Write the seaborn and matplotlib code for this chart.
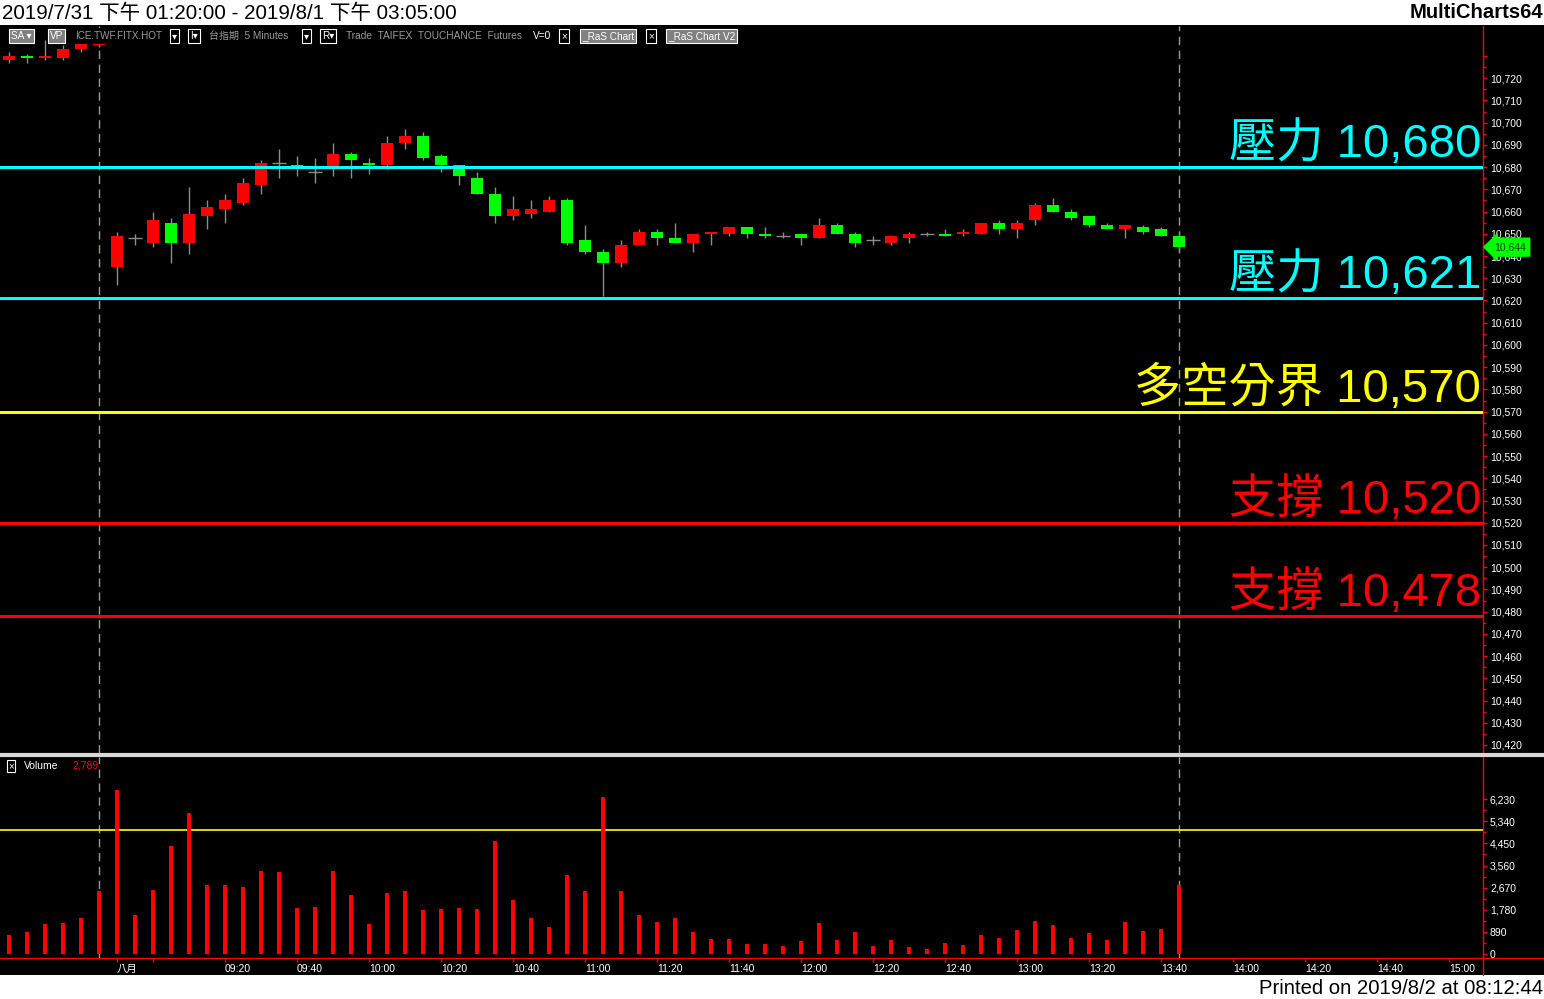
import matplotlib
matplotlib.use("Agg")
import numpy as np
import pandas as pd
import matplotlib.pyplot as plt
import seaborn as sns
from matplotlib.lines import Line2D
from matplotlib.patches import Rectangle
from matplotlib.transforms import blended_transform_factory
from matplotlib.ticker import FixedLocator, FuncFormatter


# 5 minute bars of TAIFEX futures, last 6 bars of the night session then the day session
bar_open = [10728, 10730, 10729, 10729, 10733, 10735,
            10635, 10648, 10646, 10655, 10646, 10658, 10661, 10664, 10672, 10682,
            10681, 10678, 10679, 10686, 10682, 10681, 10691, 10694, 10685, 10681,
            10675, 10668, 10658, 10659, 10660, 10665, 10647, 10642, 10637, 10645,
            10651, 10648, 10646, 10650, 10650, 10653, 10650, 10649, 10650, 10648,
            10654, 10650, 10647, 10646, 10648, 10650, 10650, 10650, 10650, 10655,
            10652, 10656, 10663, 10660, 10658, 10654, 10652, 10653, 10652, 10649]
bar_high = [10732, 10731, 10737, 10735, 10738, 10742,
            10651, 10650, 10660, 10657, 10671, 10665, 10668, 10675, 10683, 10688,
            10685, 10684, 10691, 10687, 10684, 10694, 10697, 10696, 10686, 10681,
            10678, 10671, 10667, 10665, 10667, 10666, 10654, 10643, 10647, 10652,
            10652, 10655, 10650, 10651, 10653, 10653, 10653, 10651, 10650, 10657,
            10655, 10651, 10649, 10649, 10651, 10651, 10652, 10652, 10655, 10656,
            10656, 10664, 10666, 10661, 10658, 10655, 10654, 10654, 10653, 10651]
bar_low = [10727, 10727, 10728, 10728, 10732, 10734,
           10627, 10645, 10644, 10637, 10641, 10652, 10655, 10663, 10668, 10675,
           10676, 10673, 10676, 10675, 10677, 10679, 10688, 10683, 10678, 10672,
           10668, 10655, 10656, 10657, 10660, 10645, 10641, 10622, 10635, 10645,
           10645, 10646, 10642, 10645, 10649, 10648, 10648, 10648, 10645, 10648,
           10650, 10644, 10645, 10645, 10646, 10649, 10649, 10649, 10650, 10650,
           10648, 10654, 10660, 10656, 10653, 10652, 10648, 10650, 10649, 10642]
bar_close = [10730, 10729, 10730, 10733, 10738, 10741,
             10649, 10648, 10656, 10646, 10659, 10662, 10665, 10673, 10682, 10682,
             10679, 10678, 10686, 10683, 10681, 10691, 10694, 10684, 10681, 10676,
             10668, 10658, 10661, 10661, 10665, 10646, 10642, 10637, 10645, 10651,
             10648, 10646, 10650, 10651, 10653, 10650, 10649, 10649, 10648, 10654,
             10650, 10646, 10647, 10649, 10650, 10650, 10649, 10651, 10655, 10652,
             10655, 10663, 10660, 10657, 10654, 10652, 10654, 10651, 10649, 10644]
volume = [764, 884, 1206, 1246, 1447, 2533,
          6593, 1568, 2573, 4342, 5668, 2774, 2774, 2693, 3337, 3296,
          1849, 1889, 3337, 2372, 1206, 2452, 2533, 1769, 1809, 1849,
          1809, 4543, 2171, 1447, 1085, 3176, 2533, 6311, 2533, 1568,
          1286, 1447, 884, 603, 603, 402, 402, 322, 523, 1246,
          563, 884, 322, 563, 281, 201, 442, 362, 764, 643,
          965, 1327, 1166, 643, 844, 563, 1286, 925, 1005, 2789]

session_breaks = [5, 65]
volume_avg = 4985
last_price = 10644

level_prices = [10680, 10621, 10570, 10520, 10478]
level_names = ['壓力', '壓力', '多空分界', '支撐', '支撐']
level_colors = ['#00FFFF', '#00FFFF', '#FFFF00', '#FF0000', '#FF0000']

time_ticks = [6, 8] + list(range(12, 81, 4))
time_labels = ['八月', '', '09:20', '09:40', '10:00', '10:20', '10:40', '11:00',
               '11:20', '11:40', '12:00', '12:20', '12:40', '13:00', '13:20',
               '13:40', '14:00', '14:20', '14:40', '15:00']
price_ticks = list(range(10420, 10731, 10))
volume_ticks = [0, 890, 1780, 2670, 3560, 4450, 5340, 6230]

W, H = 1544, 999
def fy(y):
    return 1 - y / H

sns.set_theme(style='dark', rc={'axes.facecolor': 'black', 'figure.facecolor': 'black'})
plt.rcParams['font.family'] = ['Liberation Sans', 'Noto Sans CJK TC', 'DejaVu Sans']

fig = plt.figure(figsize=(W / 100, H / 100), dpi=100)
fig.patch.set_facecolor('black')

ax_p = fig.add_axes([0, fy(753), 1483 / W, (753 - 26) / H])
ax_v = fig.add_axes([0, fy(958), 1483 / W, (958 - 757) / H])
for ax in (ax_p, ax_v):
    ax.set_facecolor('black')
    ax.grid(False)
    for s in ('left', 'top', 'bottom'):
        ax.spines[s].set_visible(False)
    ax.spines['right'].set_color('#FF0000')
    ax.spines['right'].set_linewidth(1)
    ax.set_xlim(-0.5, 81.89)

# candles
df = pd.DataFrame({'o': bar_open, 'h': bar_high, 'l': bar_low, 'c': bar_close, 'v': volume})
df['i'] = np.arange(len(df))
ax_p.vlines(df['i'], df['l'], df['h'], color='#8c8c8c', lw=1, zorder=2)
up = df[df['c'] > df['o']]
dn = df[df['c'] < df['o']]
dj = df[df['c'] == df['o']]
ax_p.bar(up['i'], up['c'] - up['o'], bottom=up['o'], width=0.72, color='#FF0000', lw=0, zorder=3)
ax_p.bar(dn['i'], dn['o'] - dn['c'], bottom=dn['c'], width=0.72, color='#00FF00', lw=0, zorder=3)
ax_p.hlines(dj['c'], dj['i'] - 0.4, dj['i'] + 0.4, color='#8c8c8c', lw=1, zorder=3)

ax_p.set_ylim(10416.4, 10743.5)
trans = blended_transform_factory(ax_p.transAxes, ax_p.transData)
for p, name, col in zip(level_prices, level_names, level_colors):
    ax_p.axhline(p, color=col, lw=2.2, zorder=4)
    ax_p.text(1481 / 1483, p + 4.4, f'{name} {p:,}', transform=trans, ha='right',
              va='baseline', fontsize=34, color=col, zorder=5)

for b in session_breaks:
    for ax in (ax_p, ax_v):
        ax.axvline(b, color='#9a9a9a', lw=1, dashes=(6, 4), zorder=1)

ax_p.yaxis.tick_right()
ax_p.yaxis.set_major_locator(FixedLocator(price_ticks))
ax_p.yaxis.set_minor_locator(FixedLocator([t + 5 for t in price_ticks[:-1]]))
ax_p.yaxis.set_major_formatter(FuncFormatter(lambda v, _: '' if v > 10725 else f'{int(v):,}'))
ax_p.tick_params(axis='y', which='both', colors='#FF0000', labelcolor='white', labelsize=7.5,
                 direction='out', length=3, width=1, pad=2, right=True, left=False)
ax_p.tick_params(axis='y', which='minor', length=2)
ax_p.set_xticks([])

# last price marker
fig.text(1494 / W, ax_p.transData.transform((0, last_price))[1] / H, f'{last_price:,}',
         ha='left', va='center', fontsize=7.5, color='#004400', zorder=6,
         bbox=dict(boxstyle='larrow,pad=0.38', fc='#00FF00', ec='#00FF00'))

# volume
sns.barplot(data=df, x='i', y='v', native_scale=True, color='#FF0000', saturation=1,
            width=0.2, linewidth=0, ax=ax_v, zorder=3)
ax_v.axhline(volume_avg, color='#FFFF00', lw=1.2, zorder=2)
ax_v.set_xlim(-0.5, 81.89)
ax_v.set_ylim(-150, 7918)
ax_v.set_xlabel('')
ax_v.set_ylabel('')
ax_v.yaxis.tick_right()
ax_v.yaxis.set_major_locator(FixedLocator(volume_ticks))
ax_v.yaxis.set_minor_locator(FixedLocator([t + 445 for t in volume_ticks[:-1]]))
ax_v.yaxis.set_major_formatter(FuncFormatter(lambda v, _: f'{int(v):,}'))
ax_v.tick_params(axis='y', which='both', colors='#FF0000', labelcolor='white', labelsize=7.5,
                 direction='out', length=3, width=1, pad=2, right=True, left=False)
ax_v.tick_params(axis='y', which='minor', length=2)
ax_v.set_xticks(time_ticks)
ax_v.set_xticklabels(time_labels)
ax_v.tick_params(axis='x', colors='#FF0000', labelcolor='white', labelsize=7.5,
                 direction='out', length=3, width=1, pad=1.5, bottom=True)
for lab in ax_v.get_xticklabels():
    lab.set_ha('left')

fig.text(24 / W, fy(766), 'Volume', fontsize=7.5, color='white', va='center')
fig.text(72 / W, fy(766), f'{volume[-1]:,}', fontsize=7.5, color='#FF0000', va='center')
fig.text(11 / W, fy(766), '×', fontsize=7, color='white', ha='center', va='center',
         bbox=dict(boxstyle='square,pad=0.15', fc='black', ec='white', lw=0.8))

# frame lines
fig.add_artist(Line2D([0, 1], [fy(755), fy(755)], color='#d8d8d8', lw=3))
fig.add_artist(Line2D([0, 1], [fy(958), fy(958)], color='#FF0000', lw=1))
fig.add_artist(Line2D([1483 / W, 1483 / W], [fy(975), fy(958)], color='#FF0000', lw=1))

# white header and footer strips
fig.add_artist(Rectangle((0, fy(25)), 1, 25 / H, transform=fig.transFigure, fc='white', ec='none'))
fig.add_artist(Rectangle((0, 0), 1, 24 / H, transform=fig.transFigure, fc='white', ec='none'))
fig.text(2 / W, fy(13), '2019/7/31 下午 01:20:00 - 2019/8/1 下午 03:05:00', fontsize=14.8,
         color='black', va='center', ha='left')
fig.text(1543 / W, fy(13), 'MultiCharts64', fontsize=14.6, fontweight='bold',
         color='black', va='center', ha='right')
fig.text(1543 / W, fy(988), 'Printed on 2019/8/2 at 08:12:44', fontsize=14.6,
         color='black', va='center', ha='right')

# toolbar over the top of the price panel
fig.add_artist(Rectangle((72 / W, fy(44)), (750 - 72) / W, 16 / H, transform=fig.transFigure,
                         fc='black', ec='none'))
ty = fy(36)
gray = '#9a9a9a'
def box(x, s, fc='black', col='white'):
    fig.text(x / W, ty, s, fontsize=7.2, color=col, va='center', ha='left',
             bbox=dict(boxstyle='square,pad=0.2', fc=fc, ec='white', lw=0.8))
box(11, 'SA ▾', fc='#808080')
box(50, 'VP', fc='#808080')
fig.text(75 / W, ty, 'ICE.TWF.FITX.HOT', fontsize=7.1, color=gray, va='center')
box(172, '▾')
box(190, 'I▾')
fig.text(209 / W, ty, '台指期  5 Minutes', fontsize=7.2, color=gray, va='center')
box(304, '▾')
box(322, 'R▾')
fig.text(346 / W, ty, 'Trade  TAIFEX  TOUCHANCE  Futures', fontsize=7.3, color=gray, va='center')
fig.text(533 / W, ty, 'V=0', fontsize=7.3, color='white', va='center')
box(561, '×')
box(582, '_RaS Chart', fc='#808080')
box(648, '×')
box(668, '_RaS Chart V2', fc='#808080')

fig.savefig('out.png', dpi=100, facecolor='black')
